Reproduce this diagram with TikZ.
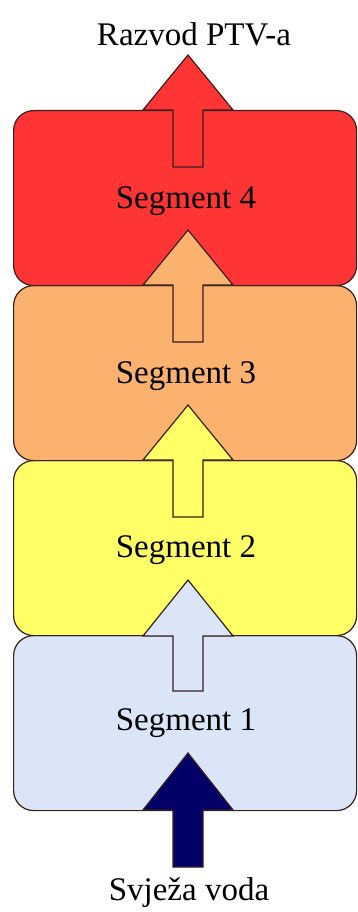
\documentclass[tikz,border=0pt]{standalone}
\usepackage{fontspec}
\setmainfont{Liberation Serif}
\begin{document}
\begin{tikzpicture}[x=1pt,y=-1pt,
  segbox/.style={draw=boxline,line width=1.2pt,rounded corners=20pt,minimum width=343pt,minimum height=175pt,inner sep=0pt,anchor=north west},
  lbl/.style={font=\fontsize{33}{38}\selectfont,inner sep=0pt},
  flow/.style={draw=boxline,line width=1.2pt,line join=miter}]
\definecolor{boxline}{HTML}{3A1E1E}
\definecolor{cRed}{HTML}{FF3535}
\definecolor{cOrange}{HTML}{FBB26E}
\definecolor{cYellow}{HTML}{FFFF66}
\definecolor{cBlue}{HTML}{DAE6F7}
\definecolor{cNavy}{HTML}{000066}
\useasboundingbox (0,0) rectangle (357,912);
% boxes, bottom first
\node[segbox,fill=cBlue] (s1) at (13,635) {};
\node[segbox,fill=cYellow] (s2) at (13,460) {};
\node[segbox,fill=cOrange] (s3) at (13,285) {};
\node[segbox,fill=cRed] (s4) at (13,110) {};
% arrows: tip y, base y, shaft end y
\newcommand{\flowarrow}[4]{%
  \filldraw[flow,fill=#1] (188,#2) -- (233,#3) -- (203,#3) -- (203,#4) -- (173,#4) -- (173,#3) -- (143,#3) -- cycle;}
\flowarrow{cNavy}{753}{810}{867}
\flowarrow{cBlue}{580}{636}{691}
\flowarrow{cYellow}{405}{460}{517}
\flowarrow{cOrange}{230}{285}{342}
\flowarrow{cRed}{55}{110}{167}
% labels
\node[lbl] (l4) at (186,201) {Segment 4};
\node[lbl] (l3) at (186,376) {Segment 3};
\node[lbl] (l2) at (186,550) {Segment 2};
\node[lbl] (l1) at (186,723) {Segment 1};
\node[lbl] (top) at (194,34) {Razvod PTV-a};
\node[lbl] (bot) at (189,893) {Svježa voda};
\end{tikzpicture}
\end{document}
